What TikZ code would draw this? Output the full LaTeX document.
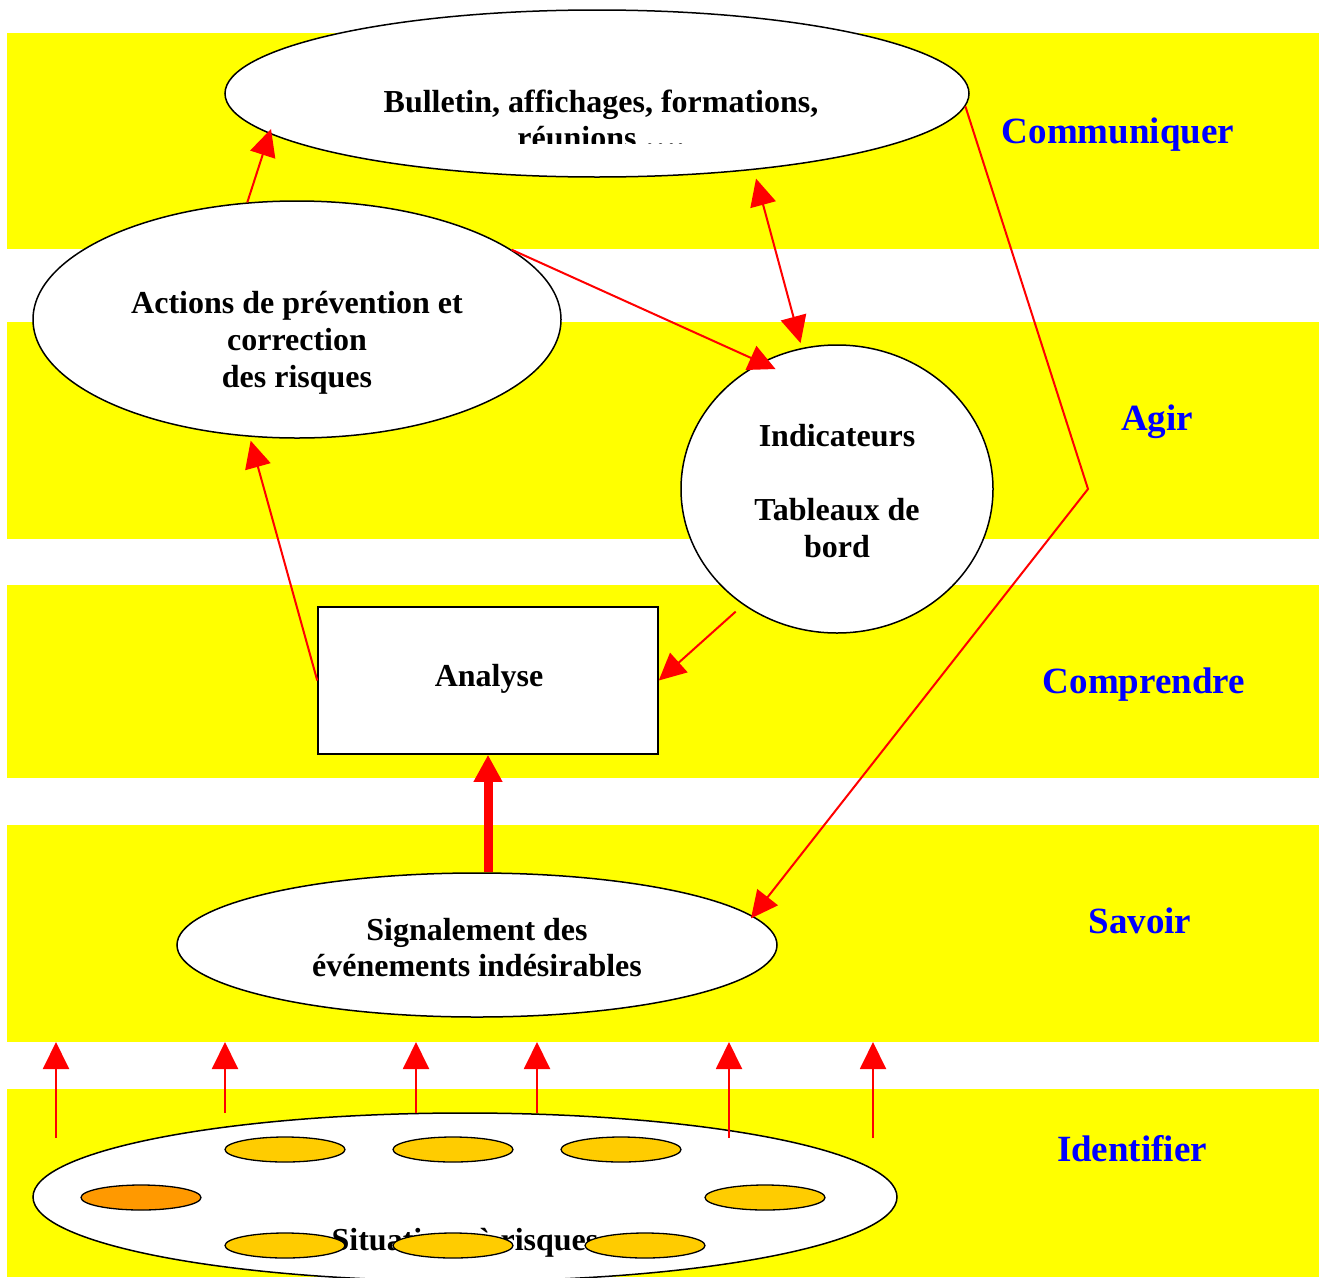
\documentclass[tikz,border=0pt]{standalone}
\usepackage{fontspec}
\setmainfont{Liberation Serif}
\usetikzlibrary{arrows.meta,shapes.geometric,calc}
\definecolor{bandyellow}{HTML}{FFFF00}
\definecolor{arrred}{HTML}{FF0000}
\definecolor{lblblue}{HTML}{0000FF}
\definecolor{goldfill}{HTML}{FFCC00}
\definecolor{orangefill}{HTML}{FF9900}
\begin{document}
\begin{tikzpicture}[x=1pt,y=-1pt,
  band/.style={fill=bandyellow,draw=none},
  bubble/.style={ellipse,draw=black,fill=white,line width=1.5pt,inner sep=0pt},
  spot/.style={ellipse,draw=black,fill=goldfill,line width=1.3pt,inner sep=0pt,minimum width=120pt,minimum height=25pt},
  txt/.style={font=\fontsize{32}{36.8}\selectfont\bfseries,align=center,inner sep=0pt},
  lbl/.style={font=\fontsize{37}{42}\selectfont\bfseries,text=lblblue,inner sep=0pt,anchor=base},
  redarrow/.style={draw=arrred,line width=2pt,-{Triangle[length=27pt,width=26pt]}},
  redboth/.style={draw=arrred,line width=2pt,{Triangle[length=27pt,width=26pt]}-{Triangle[length=27pt,width=26pt]}},
  thickarrow/.style={draw=arrred,line width=9pt,-{Triangle[length=27pt,width=27pt]}}
]
\clip (0,0) rectangle (1319,1277);
\fill[white] (0,0) rectangle (1319,1277);
% bands
\fill[band] (7,33) rectangle (1319,249);
\fill[band] (7,322) rectangle (1319,539);
\fill[band] (7,585) rectangle (1319,778);
\fill[band] (7,825) rectangle (1319,1042);
\fill[band] (7,1089) rectangle (1319,1277);

% shapes
\node[bubble,minimum width=744pt,minimum height=167pt] (comm) at (597,93.5) {};
\begin{scope}
\clip (220,0) rectangle (975,143.3);
\node[txt] (commtext) at (601,119.5) {Bulletin, affichages, formations,\\réunions ….};
\end{scope}

\node[bubble,minimum width=528pt,minimum height=237pt] (actions) at (297,319.5) {};
\node[txt] (actionstext) at (297,343) {Actions de prévention et\\correction\\des risques};

\node[bubble,minimum width=312pt,minimum height=288pt] (ind) at (837,489) {};
\node[txt] (indtext) at (837,491) {Indicateurs\\[36.8pt]Tableaux de\\bord};

\node[draw=black,fill=white,line width=1.5pt,minimum width=340pt,minimum height=147pt] (analyse) at (488,680.5) {};
\node[txt] (analysetext) at (489,678.5) {Analyse};

\node[bubble,minimum width=600pt,minimum height=144pt] (signal) at (477,945) {};
\node[txt] (signaltext) at (477,947.5) {Signalement des\\événements indésirables};

\node[bubble,minimum width=864pt,minimum height=168pt] (situ) at (465,1197) {};
\node[txt] (situtext) at (465,1243) {Situations à risques};

\node[spot] (p1) at (285,1149.5) {};
\node[spot] (p2) at (453,1149.5) {};
\node[spot] (p3) at (621,1149.5) {};
\node[spot,fill=orangefill] (p4) at (141,1197.5) {};
\node[spot] (p5) at (765,1197.5) {};
\node[spot] (p6) at (285,1245.5) {};
\node[spot] (p7) at (453,1245.5) {};
\node[spot] (p8) at (645,1245.5) {};

% labels
\node[lbl] (lcomm) at (1118,143) {Communiquer};
\node[lbl] (lagir) at (1157,430) {Agir};
\node[lbl] (lcomp) at (1144,693) {Comprendre};
\node[lbl] (lsav) at (1140,933) {Savoir};
\node[lbl] (lid) at (1132,1161) {Identifier};

% connectors
\draw[redarrow,shorten >=-5pt] (actions.113) -- (comm.187);
\draw[redboth,shorten <=9pt,shorten >=5pt] (comm.334) -- (ind.104);
\draw[redarrow,shorten >=-16pt] (actions.18) -- (ind.121);
\draw[redarrow,shorten >=4pt] (analyse.west) -- (actions.248);
\draw[redarrow,shorten <=10pt] (ind.231) -- (analyse.east);
\draw[thickarrow] (analyse.south |- signal.north) -- (analyse.south);
\coordinate (bend) at (1088,489);
\draw[redarrow,shorten >=-3pt] (comm.-2) -- (bend) -- (signal.6);

% upward arrows from the situations
\coordinate (u1s) at (56,1138);  \coordinate (u1e) at (56,1042);
\coordinate (u2s) at (225,1113); \coordinate (u2e) at (225,1042);
\coordinate (u3s) at (416,1113); \coordinate (u3e) at (416,1042);
\coordinate (u4s) at (537,1113); \coordinate (u4e) at (537,1042);
\coordinate (u5s) at (729,1138); \coordinate (u5e) at (729,1042);
\coordinate (u6s) at (873,1138); \coordinate (u6e) at (873,1042);
\foreach \i in {1,...,6} {\draw[redarrow] (u\i s) -- (u\i e);}
\end{tikzpicture}
\end{document}
